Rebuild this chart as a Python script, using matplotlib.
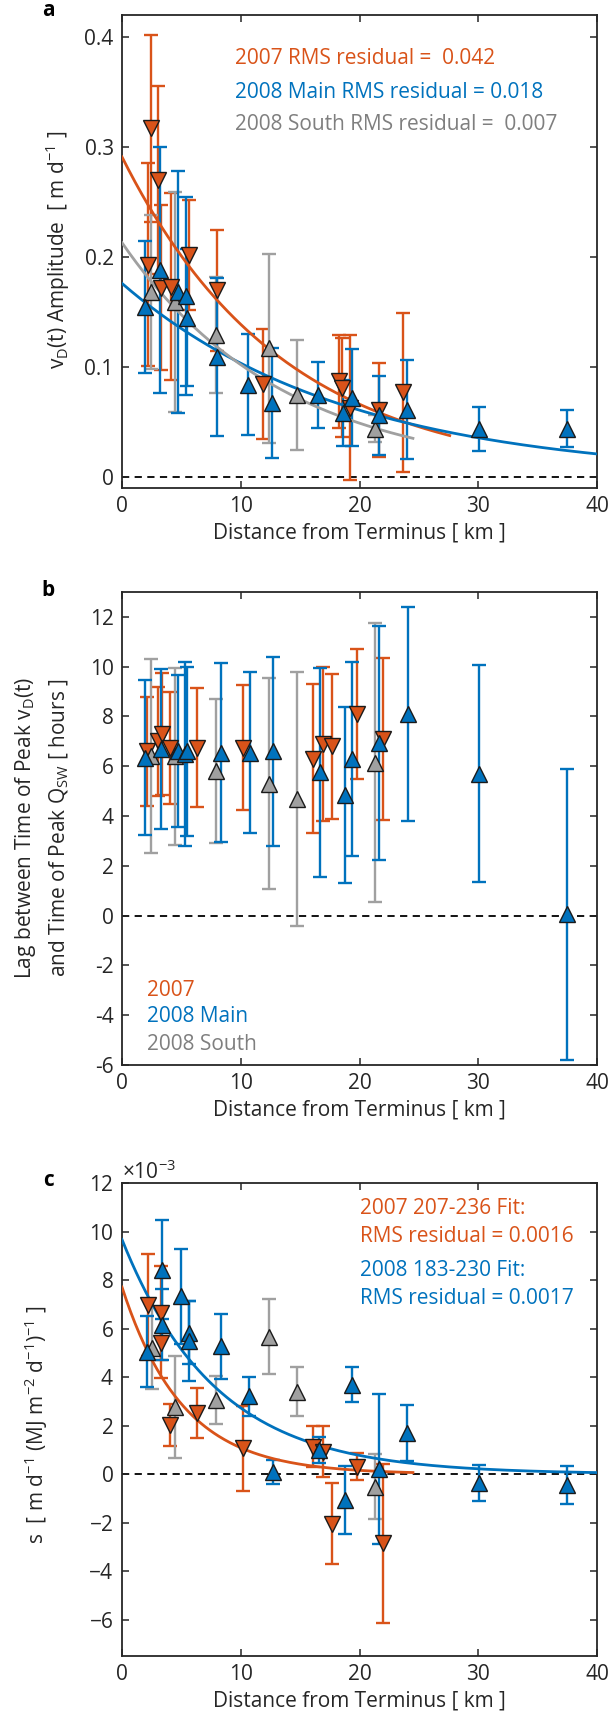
import numpy as np
import matplotlib
matplotlib.use('Agg')
import matplotlib.pyplot as plt
from matplotlib.ticker import ScalarFormatter

plt.rcParams['font.family'] = ['Open Sans', 'DejaVu Sans']
plt.rcParams['mathtext.fontset'] = 'custom'
plt.rcParams['mathtext.rm'] = 'Open Sans'
plt.rcParams['mathtext.it'] = 'Open Sans:italic'
plt.rcParams['mathtext.bf'] = 'Open Sans:bold'
plt.rcParams['axes.unicode_minus'] = False

ORANGE = '#D95319'
BLUE = '#0072BD'
GRAY = '#A0A0A0'
GRAY_TXT = '#7F7F7F'
DARK = '#262626'

# ---- panel a: diurnal amplitude [m/d] ----
a07_x = [2.2, 2.4, 3.0, 3.3, 4.1, 5.6, 8.0, 11.9, 18.3, 18.5, 19.2, 21.6, 23.7]
a07_y = [0.193, 0.317, 0.270, 0.172, 0.173, 0.202, 0.170, 0.085, 0.087, 0.081, 0.063, 0.061, 0.077]
a07_err = [0.092, 0.085, 0.085, 0.075, 0.085, 0.050, 0.055, 0.050, 0.042, 0.045, 0.066, 0.043, 0.072]

a08s_x = [2.4, 4.5, 7.9, 12.4, 14.7, 21.3]
a08s_y = [0.168, 0.159, 0.129, 0.117, 0.075, 0.044]
a08s_err = [0.070, 0.100, 0.053, 0.086, 0.050, 0.012]

a08m_x = [1.9, 3.2, 4.7, 5.4, 5.5, 8.0, 10.6, 12.6, 16.5, 18.6, 19.4, 21.6, 24.0, 30.1, 37.5]
a08m_y = [0.155, 0.188, 0.168, 0.165, 0.145, 0.109, 0.084, 0.067, 0.075, 0.058, 0.072, 0.056, 0.061, 0.044, 0.044]
a08m_err = [0.060, 0.112, 0.110, 0.090, 0.062, 0.072, 0.046, 0.050, 0.030, 0.030, 0.044, 0.036, 0.045, 0.020, 0.017]

# exponential fits (amplitude, e-folding length km, end of curve km)
a_fit_07 = (0.291, 13.5, 27.6)
a_fit_08m = (0.176, 18.8, 40.0)
a_fit_08s = (0.213, 13.6, 24.5)

# ---- panel b: lag [hours] ----
b07_x = [2.1, 3.0, 3.4, 4.0, 6.3, 10.2, 16.1, 16.9, 17.7, 19.8, 22.0]
b07_y = [6.6, 7.0, 7.3, 6.75, 6.75, 6.75, 6.3, 6.9, 6.8, 8.1, 7.1]
b07_err = [2.2, 2.2, 2.45, 2.25, 2.4, 2.5, 3.0, 3.1, 2.9, 2.6, 3.25]

b08s_x = [2.4, 4.5, 7.9, 12.4, 14.7, 21.3]
b08s_y = [6.4, 6.4, 5.8, 5.3, 4.7, 6.15]
b08s_err = [3.9, 3.55, 2.9, 4.25, 5.1, 5.6]

b08m_x = [1.9, 3.3, 4.7, 5.3, 5.5, 8.3, 10.8, 12.7, 16.7, 18.8, 19.4, 21.6, 24.1, 30.1, 37.5]
b08m_y = [6.35, 6.7, 6.6, 6.5, 6.6, 6.55, 6.55, 6.6, 5.75, 4.85, 6.3, 6.95, 8.1, 5.7, 0.05]
b08m_err = [3.1, 3.2, 3.05, 3.7, 3.4, 3.6, 3.25, 3.8, 4.2, 3.55, 3.9, 4.7, 4.3, 4.35, 5.85]

# ---- panel c: sensitivity s, in units of 1e-3 ----
c07_x = [2.2, 3.3, 3.3, 4.0, 6.3, 10.2, 16.1, 16.9, 17.7, 19.8, 22.0]
c07_y = [6.98, 6.64, 5.4, 2.02, 2.51, 1.06, 1.13, 0.92, -2.04, 0.30, -2.86]
c07_err = [2.1, 1.93, 1.45, 0.85, 1.03, 1.75, 0.85, 1.05, 1.68, 0.55, 3.28]

c08s_x = [2.5, 4.5, 7.9, 12.4, 14.7, 21.3]
c08s_y = [5.19, 2.78, 3.06, 5.67, 3.4, -0.52]
c08s_err = [1.7, 2.1, 1.0, 1.55, 1.0, 1.35]

c08m_x = [2.1, 3.4, 3.4, 5.0, 5.6, 5.6, 8.3, 10.7, 12.7, 16.6, 18.8, 19.4, 21.6, 24.0, 30.1, 37.5]
c08m_y = [5.05, 8.43, 6.16, 7.33, 5.83, 5.48, 5.26, 3.2, 0.1, 0.99, -1.07, 3.68, 0.2, 1.68, -0.38, -0.45]
c08m_err = [1.45, 2.05, 1.45, 1.95, 1.3, 1.65, 1.33, 0.8, 0.5, 0.55, 1.4, 0.72, 3.1, 1.15, 0.75, 0.8]

c_fit_07 = (7.71, 5.1, 24.5)
c_fit_08m = (9.67, 7.9, 40.0)
C_UNIT = 1e-3

FS = 15
W, H = 608, 1725


def fx(px):
    return px / W


def fy(py):
    return 1 - py / H


def draw_series(ax, x, y, err, color, marker, scale=1.0):
    y = np.asarray(y) * scale
    err = np.asarray(err) * scale
    ax.errorbar(x, y, yerr=err, fmt='none', ecolor=color, elinewidth=1.7,
                capsize=5, capthick=1.7, zorder=2)
    ax.plot(x, y, linestyle='none', marker=marker, markersize=12,
            markerfacecolor=color, markeredgecolor='#1a1a1a',
            markeredgewidth=1.0, zorder=4)


def draw_fit(ax, fit, color, scale=1.0):
    amp, length, xmax = fit
    xs = np.linspace(0, xmax, 200)
    ax.plot(xs, amp * scale * np.exp(-xs / length), color=color, lw=2, zorder=3)


def style_axes(ax):
    ax.set_xlim(0, 40)
    ax.set_xticks([0, 10, 20, 30, 40])
    ax.axhline(0, color='black', lw=1.3, ls=(0, (4, 3)), zorder=1)
    ax.tick_params(direction='in', length=5, width=1.1, top=True, right=True,
                   labelsize=FS, colors=DARK, pad=6)
    for s in ax.spines.values():
        s.set_color(DARK)
        s.set_linewidth(1.3)
    ax.set_xlabel('Distance from Terminus [ km ]', fontsize=FS, color=DARK, labelpad=4)


fig = plt.figure(figsize=(W / 100, H / 100), dpi=100)
left, width, height = fx(122), (597 - 122) / W, 473 / H

# panel a
ax = fig.add_axes([left, fy(488), width, height])
draw_series(ax, a07_x, a07_y, a07_err, ORANGE, 'v')
draw_series(ax, a08s_x, a08s_y, a08s_err, GRAY, '^')
draw_series(ax, a08m_x, a08m_y, a08m_err, BLUE, '^')
draw_fit(ax, a_fit_07, ORANGE)
draw_fit(ax, a_fit_08m, BLUE)
draw_fit(ax, a_fit_08s, GRAY)
style_axes(ax)
ax.set_ylim(-0.01, 0.42)
ax.set_yticks([0, 0.1, 0.2, 0.3, 0.4])
ax.set_yticklabels(['0', '0.1', '0.2', '0.3', '0.4'])
fig.text(fx(235), fy(58), '2007 RMS residual =  0.042', color=ORANGE, fontsize=FS, va='center')
fig.text(fx(235), fy(92), '2008 Main RMS residual = 0.018', color=BLUE, fontsize=FS, va='center')
fig.text(fx(235), fy(125), '2008 South RMS residual =  0.007', color=GRAY_TXT, fontsize=FS, va='center')
fig.text(fx(58), fy(250), r'v$_\mathregular{D}$(t) Amplitude  [ m d$^\mathregular{-1}$ ]',
         rotation=90, ha='center', va='center', fontsize=FS, color=DARK)
fig.text(fx(48), fy(10), 'a', fontsize=FS, fontweight='bold', ha='center', va='center')

# panel b
ax = fig.add_axes([left, fy(1065), width, height])
draw_series(ax, b07_x, b07_y, b07_err, ORANGE, 'v')
draw_series(ax, b08s_x, b08s_y, b08s_err, GRAY, '^')
draw_series(ax, b08m_x, b08m_y, b08m_err, BLUE, '^')
style_axes(ax)
ax.set_ylim(-6, 13)
ax.set_yticks(np.arange(-6, 13, 2))
fig.text(fx(147), fy(990), '2007', color=ORANGE, fontsize=FS, va='center')
fig.text(fx(147), fy(1017), '2008 Main', color=BLUE, fontsize=FS, va='center')
fig.text(fx(147), fy(1044), '2008 South', color=GRAY_TXT, fontsize=FS, va='center')
fig.text(fx(42), fy(828),
         'Lag between Time of Peak v$_\\mathregular{D}$(t)\nand Time of Peak Q$_\\mathregular{SW}$ [ hours ]',
         rotation=90, ha='center', va='center', multialignment='center',
         fontsize=FS, color=DARK, linespacing=1.6)
fig.text(fx(48), fy(590), 'b', fontsize=FS, fontweight='bold', ha='center', va='center')

# panel c
ax = fig.add_axes([left, fy(1656), width, height])
draw_series(ax, c07_x, c07_y, c07_err, ORANGE, 'v', C_UNIT)
draw_series(ax, c08s_x, c08s_y, c08s_err, GRAY, '^', C_UNIT)
draw_series(ax, c08m_x, c08m_y, c08m_err, BLUE, '^', C_UNIT)
draw_fit(ax, c_fit_07, ORANGE, C_UNIT)
draw_fit(ax, c_fit_08m, BLUE, C_UNIT)
style_axes(ax)
ax.set_ylim(-7.5e-3, 12e-3)
ax.set_yticks(np.arange(-6, 13, 2) * 1e-3)
fmt = ScalarFormatter(useMathText=True)
fmt.set_powerlimits((-3, -3))
ax.yaxis.set_major_formatter(fmt)
ax.yaxis.get_offset_text().set_fontsize(FS)
ax.yaxis.get_offset_text().set_color(DARK)
fig.text(fx(360), fy(1208), '2007 207-236 Fit:', color=ORANGE, fontsize=FS, va='center')
fig.text(fx(360), fy(1237), 'RMS residual = 0.0016', color=ORANGE, fontsize=FS, va='center')
fig.text(fx(360), fy(1270), '2008 183-230 Fit:', color=BLUE, fontsize=FS, va='center')
fig.text(fx(360), fy(1298), 'RMS residual = 0.0017', color=BLUE, fontsize=FS, va='center')
fig.text(fx(36), fy(1425),
         r's  [ m d$^\mathregular{-1}$ (MJ m$^\mathregular{-2}$ d$^\mathregular{-1}$)$^\mathregular{-1}$ ]',
         rotation=90, ha='center', va='center', fontsize=FS, color=DARK)
fig.text(fx(49), fy(1180), 'c', fontsize=FS, fontweight='bold', ha='center', va='center')

fig.savefig('out.png', dpi=100)
